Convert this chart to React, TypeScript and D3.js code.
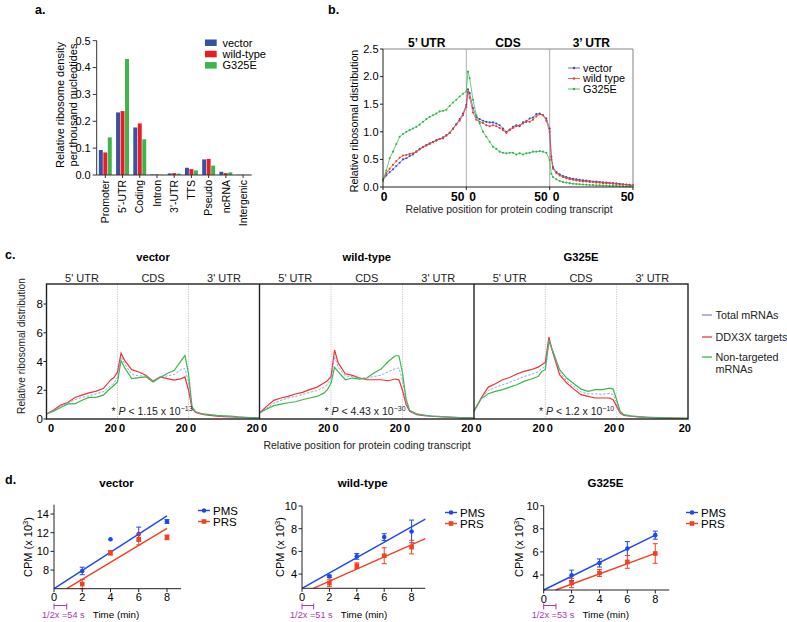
import React from "react";
import * as d3 from "d3";

const SANS = "'Liberation Sans', Arial, Helvetica, sans-serif";

// ---------------- Panel a ----------------
const A_CATEGORIES = ["Promoter", "5'-UTR", "Coding", "Intron", "3'-UTR", "TTS", "Pseudo", "ncRNA", "Intergenic"];
const A_SERIES = ["vector", "wild-type", "G325E"];
const A_VECTOR = [0.093, 0.233, 0.177, 0.002, 0.006, 0.027, 0.058, 0.012, 0.001];
const A_WILDTYPE = [0.084, 0.238, 0.192, 0.002, 0.007, 0.022, 0.06, 0.007, 0.001];
const A_G325E = [0.14, 0.432, 0.133, 0.001, 0.005, 0.017, 0.035, 0.01, 0.001];
const A_TICKS = [0, 0.1, 0.2, 0.3, 0.4, 0.5];
const A_COLORS = ["#3652a3", "#ec1c24", "#3cb54a"];

// ---------------- Panel b ----------------
const B_SECTIONS = ["5\u2019 UTR", "CDS", "3\u2019 UTR"];
const B_SERIES = ["vector", "wild type", "G325E"];
const B_COLORS = ["#3a4fb0", "#ee3b2c", "#2fb34a"];
const B_POSITIONS = [
  0, 2, 4, 6, 8, 10, 12, 14, 16, 18, 20, 22, 24, 26, 28, 30, 32, 34, 36, 38, 40, 42, 44, 46, 48, 50,
  51, 52, 54, 56, 58, 60, 62, 64, 66, 68, 70, 72, 74, 76, 78, 80, 82, 84, 86, 88, 90, 92, 94, 96, 98, 100,
  101, 102, 104, 106, 108, 110, 112, 114, 116, 118, 120, 122, 124, 126, 128, 130, 132, 134, 136, 138, 140, 142, 144, 146, 148, 150,
];
const B_VECTOR = [
  0.12, 0.21, 0.27, 0.32, 0.38, 0.44, 0.5, 0.52, 0.56, 0.59, 0.64, 0.69, 0.73, 0.76, 0.79, 0.82, 0.85, 0.87, 0.9, 0.94, 0.98, 1.06, 1.14, 1.23, 1.33, 1.49,
  1.77, 1.7, 1.43, 1.27, 1.23, 1.2, 1.18, 1.17, 1.17, 1.15, 1.12, 1.06, 1.0, 1.04, 1.09, 1.12, 1.1, 1.17, 1.18, 1.24, 1.26, 1.32, 1.33, 1.3, 1.24, 1.06,
  0.55, 0.36, 0.27, 0.23, 0.2, 0.18, 0.16, 0.15, 0.14, 0.13, 0.12, 0.115, 0.11, 0.1, 0.1, 0.09, 0.085, 0.08, 0.075, 0.07, 0.065, 0.06, 0.05, 0.045, 0.04, 0.03,
];
const B_WILDTYPE = [
  0.14, 0.25, 0.33, 0.4, 0.47, 0.53, 0.57, 0.58, 0.6, 0.61, 0.64, 0.68, 0.72, 0.75, 0.78, 0.81, 0.84, 0.87, 0.88, 0.93, 0.98, 1.05, 1.13, 1.2, 1.3, 1.45,
  1.72, 1.62, 1.35, 1.22, 1.18, 1.16, 1.12, 1.1, 1.12, 1.1, 1.07, 1.03, 0.98, 1.03, 1.07, 1.1, 1.12, 1.15, 1.2, 1.18, 1.22, 1.28, 1.32, 1.3, 1.2, 1.0,
  0.5, 0.33, 0.25, 0.21, 0.18, 0.16, 0.14, 0.13, 0.12, 0.11, 0.1, 0.1, 0.09, 0.09, 0.08, 0.08, 0.07, 0.07, 0.065, 0.06, 0.055, 0.05, 0.045, 0.04, 0.03, 0.025,
];
const B_G325E = [
  0.12, 0.3, 0.52, 0.64, 0.78, 0.91, 0.96, 1.0, 1.03, 1.06, 1.09, 1.13, 1.18, 1.23, 1.27, 1.3, 1.33, 1.37, 1.38, 1.4, 1.47, 1.53, 1.58, 1.64, 1.69, 1.73,
  2.09, 1.97, 1.58, 1.3, 1.15, 1.0, 0.91, 0.82, 0.73, 0.69, 0.64, 0.62, 0.61, 0.62, 0.62, 0.59, 0.61, 0.59, 0.61, 0.62, 0.64, 0.64, 0.65, 0.64, 0.62, 0.49,
  0.24, 0.18, 0.14, 0.11, 0.09, 0.08, 0.07, 0.06, 0.055, 0.05, 0.045, 0.04, 0.035, 0.035, 0.03, 0.03, 0.025, 0.025, 0.02, 0.02, 0.02, 0.015, 0.015, 0.01, 0.01, 0.01,
];
const B_YTICKS = [0, 0.5, 1.0, 1.5, 2.0, 2.5];

// ---------------- Panel c ----------------
const C_TITLES = ["vector", "wild-type", "G325E"];
const C_SECTIONS = ["5' UTR", "CDS", "3' UTR"];
const C_LEGEND = ["Total mRNAs", "DDX3X targets", "Non-targeted"];
const C_COLORS = ["#7d8dd6", "#ef3333", "#3cb846"];
const C_POSITIONS = [0, 2, 4, 6, 8, 10, 12, 14, 16, 18, 19, 20, 21, 22, 24, 26, 28, 30, 32, 34, 36, 38, 39, 40, 41, 42, 44, 46, 48, 50, 52, 54, 56, 58, 60];
const C_VECTOR_TOTAL = [0.35, 0.6, 0.9, 1.1, 1.35, 1.5, 1.62, 1.75, 1.9, 2.3, 2.5, 2.9, 4.35, 3.85, 3.1, 3.0, 3.0, 2.65, 2.9, 3.0, 3.1, 3.45, 3.5, 2.6, 0.8, 0.48, 0.33, 0.27, 0.22, 0.19, 0.16, 0.13, 0.11, 0.09, 0.08];
const C_VECTOR_TARGETS = [0.35, 0.62, 0.97, 1.15, 1.5, 1.66, 1.82, 1.94, 2.12, 2.7, 2.88, 3.27, 4.58, 4.08, 3.43, 3.27, 3.04, 2.63, 2.93, 2.81, 2.7, 2.81, 2.93, 2.0, 0.74, 0.46, 0.32, 0.25, 0.2, 0.17, 0.14, 0.12, 0.1, 0.08, 0.07];
const C_VECTOR_NONTARGETED = [0.35, 0.55, 0.8, 1.05, 1.05, 1.3, 1.5, 1.5, 1.66, 2.12, 2.35, 2.58, 4.08, 3.57, 2.81, 2.88, 2.93, 2.58, 2.88, 3.16, 3.39, 4.08, 4.42, 3.16, 0.85, 0.5, 0.35, 0.3, 0.25, 0.22, 0.2, 0.15, 0.12, 0.1, 0.08];
const C_WT_TOTAL = [0.42, 0.76, 1.1, 1.3, 1.46, 1.57, 1.7, 1.85, 1.97, 2.2, 2.4, 2.73, 4.35, 3.6, 3.0, 2.95, 2.85, 2.85, 2.95, 3.05, 3.3, 3.5, 3.55, 2.7, 1.2, 0.55, 0.32, 0.25, 0.2, 0.17, 0.14, 0.12, 0.1, 0.08, 0.07];
const C_WT_TARGETS = [0.42, 0.88, 1.3, 1.46, 1.57, 1.74, 1.85, 2.04, 2.2, 2.5, 2.66, 2.95, 4.8, 3.9, 3.15, 3.03, 2.85, 2.73, 2.73, 2.73, 2.66, 2.78, 2.73, 2.0, 1.0, 0.53, 0.3, 0.23, 0.19, 0.16, 0.14, 0.12, 0.1, 0.08, 0.07];
const C_WT_NONTARGETED = [0.42, 0.7, 0.93, 1.04, 1.13, 1.2, 1.34, 1.46, 1.57, 1.8, 2.04, 2.5, 3.6, 3.3, 2.73, 2.85, 2.78, 2.85, 3.2, 3.47, 4.0, 4.4, 4.4, 3.2, 1.4, 0.6, 0.35, 0.28, 0.2, 0.18, 0.15, 0.12, 0.1, 0.08, 0.07];
const C_G325E_TOTAL = [0.55, 1.43, 1.98, 2.2, 2.38, 2.55, 2.75, 2.95, 3.1, 3.28, 3.5, 3.65, 5.5, 4.75, 3.25, 2.65, 2.25, 1.88, 1.75, 1.75, 1.72, 1.78, 1.7, 1.1, 0.47, 0.27, 0.2, 0.16, 0.12, 0.1, 0.08, 0.07, 0.06, 0.05, 0.05];
const C_G325E_TARGETS = [0.55, 1.46, 2.22, 2.45, 2.73, 2.89, 3.13, 3.31, 3.43, 3.61, 3.77, 3.94, 5.69, 4.7, 3.08, 2.5, 2.08, 1.69, 1.57, 1.46, 1.46, 1.46, 1.34, 0.88, 0.42, 0.25, 0.19, 0.15, 0.12, 0.1, 0.08, 0.07, 0.06, 0.05, 0.05];
const C_G325E_NONTARGETED = [0.55, 1.4, 1.76, 1.92, 2.04, 2.22, 2.38, 2.62, 2.78, 2.96, 3.31, 3.43, 5.39, 4.81, 3.43, 2.85, 2.45, 2.08, 1.92, 2.04, 2.04, 2.15, 2.08, 1.34, 0.53, 0.3, 0.22, 0.17, 0.13, 0.11, 0.09, 0.08, 0.07, 0.06, 0.05];
const C_YTICKS = [0, 2, 4, 6, 8];
const C_PVAL_BASE = ["1.15", "4.43", "1.2"];
const C_PVAL_EXP = ["\u221213", "\u221230", "\u221210"];

// ---------------- Panel d ----------------
const D_TITLES = ["vector", "wild-type", "G325E"];
const D_SERIES = ["PMS", "PRS"];
const D_COLORS = ["#1f46f0", "#f2411f"];
const D_PURPLE = "#a83aab";
const D_TIMES = [2, 4, 6, 8];
const D_XTICKS = [0, 2, 4, 6, 8];
const D_VECTOR_PMS = [7.9, 11.3, 11.85, 13.2];
const D_VECTOR_PMS_ERR = [0.4, 0, 0.75, 0.2];
const D_VECTOR_PRS = [6.5, 9.85, 11.3, 11.5];
const D_VECTOR_PRS_ERR = [0.5, 0.25, 0.6, 0.25];
const D_WT_PMS = [3.8, 5.56, 7.26, 7.76];
const D_WT_PMS_ERR = [0.1, 0.25, 0.3, 1.0];
const D_WT_PRS = [3.2, 4.74, 5.62, 6.38];
const D_WT_PRS_ERR = [0.3, 0.25, 0.7, 0.6];
const D_G325E_PMS = [3.97, 5.04, 6.29, 7.45];
const D_G325E_PMS_ERR = [0.45, 0.35, 0.6, 0.35];
const D_G325E_PRS = [3.3, 4.17, 5.13, 5.86];
const D_G325E_PRS_ERR = [0.4, 0.3, 0.55, 0.85];
// fitted regression lines: [slope, intercept]
const D_FIT_PMS = [[0.975, 6.0], [0.678, 2.75], [0.594, 2.7]];
const D_FIT_PRS = [[0.91, 5.18], [0.535, 2.31], [0.443, 2.32]];
const D_FIT_XEND = [8, 9, 8];
const D_YMIN = [6, 2.75, 2.7];
const D_YMAX = [15, 10, 10];
const D_YTICKS = [[8, 10, 12, 14], [4, 6, 8, 10], [4, 6, 8, 10]];
const D_HALF_TRANSIT_MIN = [0.9, 0.85, 0.88];
const D_HALF_TRANSIT_LABEL = ["54", "51", "53"];

function PanelA() {
  const x0 = 96.7;
  const x1 = 251.7;
  const x = d3.scaleBand<string>().domain(A_CATEGORIES).range([x0, x1]).paddingInner(0.25).paddingOuter(0.125);
  const xs = d3.scaleBand<string>().domain(A_SERIES).range([0, x.bandwidth()]).paddingInner(0.12);
  const y = d3.scaleLinear().domain([0, 0.5]).range([175, 40.7]);
  const vals = [A_VECTOR, A_WILDTYPE, A_G325E];
  return (
    <g>
      <text x={35} y={14} fontSize={12.5} fontWeight="bold">a.</text>
      {A_SERIES.map((s, si) =>
        A_CATEGORIES.map((c, ci) => (
          <rect
            key={s + c}
            x={(x(c) as number) + (xs(s) as number)}
            y={y(vals[si][ci])}
            width={xs.bandwidth()}
            height={y(0) - y(vals[si][ci])}
            fill={A_COLORS[si]}
          />
        ))
      )}
      <line x1={x0} x2={x0} y1={y(0)} y2={y(0.5)} stroke="#333" />
      {A_TICKS.map((t) => (
        <g key={t}>
          <line x1={x0 - 4} x2={x0} y1={y(t)} y2={y(t)} stroke="#333" />
          <text x={x0 - 6} y={y(t)} dy="0.35em" textAnchor="end" fontSize={11}>{t.toFixed(1)}</text>
        </g>
      ))}
      <line x1={x0} x2={x1} y1={y(0)} y2={y(0)} stroke="#333" />
      {A_CATEGORIES.map((c) => {
        const cx = (x(c) as number) + x.bandwidth() / 2;
        return (
          <g key={c}>
            <line x1={cx} x2={cx} y1={y(0)} y2={y(0) + 3} stroke="#333" />
            <text transform={`translate(${cx + 3.7},${y(0) + 5}) rotate(-90)`} textAnchor="end" fontSize={10.5}>{c}</text>
          </g>
        );
      })}
      <text transform="translate(63.5,105) rotate(-90)" textAnchor="middle" fontSize={11}>Relative ribosome density</text>
      <text transform="translate(77,105) rotate(-90)" textAnchor="middle" fontSize={11}>per thousand nucleotides</text>
      {A_SERIES.map((s, i) => (
        <g key={s}>
          <rect x={205} y={39.5 + i * 11.3} width={11.7} height={6.5} fill={A_COLORS[i]} />
          <text x={222.5} y={42.7 + i * 11.3} dy="0.35em" fontSize={11}>{s}</text>
        </g>
      ))}
    </g>
  );
}

function PanelB() {
  const x = d3.scaleLinear().domain([0, 150]).range([383, 633]);
  const y = d3.scaleLinear().domain([0, 2.5]).range([187, 49]);
  const series = [B_VECTOR, B_WILDTYPE, B_G325E];
  const line = d3.line<number>().x((_, i) => x(B_POSITIONS[i])).y((d) => y(d));
  const bounds = [0, 50, 100, 150];
  return (
    <g>
      <text x={328} y={14} fontSize={12.5} fontWeight="bold">b.</text>
      <line x1={x(0)} x2={x(150)} y1={y(2.5)} y2={y(2.5)} stroke="#777" strokeWidth={0.9} />
      <line x1={x(150)} x2={x(150)} y1={y(2.5)} y2={y(0)} stroke="#777" strokeWidth={0.9} />
      {[50, 100].map((b) => (
        <line key={b} x1={x(b)} x2={x(b)} y1={y(2.5)} y2={y(0)} stroke="#999" strokeWidth={0.8} />
      ))}
      {series.map((s, i) => (
        <g key={i}>
          <path d={line(s) as string} fill="none" stroke={B_COLORS[i]} strokeWidth={0.7} />
          {s.map((v, j) => (
            <circle key={j} cx={x(B_POSITIONS[j])} cy={y(v)} r={1.05} fill={B_COLORS[i]} />
          ))}
        </g>
      ))}
      <line x1={x(0)} x2={x(0)} y1={y(0)} y2={y(2.5)} stroke="#222" strokeWidth={1} />
      <line x1={x(0)} x2={x(150)} y1={y(0)} y2={y(0)} stroke="#222" strokeWidth={1} />
      {B_YTICKS.map((t) => (
        <g key={t}>
          <line x1={x(0) - 3} x2={x(0)} y1={y(t)} y2={y(t)} stroke="#222" />
          <text x={x(0) - 4.5} y={y(t)} dy="0.35em" textAnchor="end" fontSize={11}>{t.toFixed(1)}</text>
        </g>
      ))}
      {bounds.map((b, i) => (
        <g key={b}>
          <line x1={x(b)} x2={x(b)} y1={y(0)} y2={y(0) + 3} stroke="#222" />
          {i > 0 && (
            <text x={i === 3 ? x(b) + 1 : x(b) - 2} y={201} textAnchor="end" fontSize={12} fontWeight="bold">50</text>
          )}
          {i < 3 && (
            <text x={i === 0 ? x(b) + 1 : x(b) + 3} y={201} textAnchor={i === 0 ? "middle" : "start"} fontSize={12} fontWeight="bold">0</text>
          )}
        </g>
      ))}
      {B_SECTIONS.map((s, i) => (
        <text key={s} x={x(i * 50 + 25) + (i === 0 ? 2 : 0)} y={47} textAnchor="middle" fontSize={12} fontWeight="bold">{s}</text>
      ))}
      <text x={509} y={213} textAnchor="middle" fontSize={10.5} fill="#222">Relative position for protein coding transcript</text>
      <text transform="translate(357.5,121) rotate(-90)" textAnchor="middle" fontSize={10.7}>Relative ribosomal distribution</text>
      {B_SERIES.map((s, i) => (
        <g key={s}>
          <line x1={568} x2={580} y1={68 + i * 10.5} y2={68 + i * 10.5} stroke={B_COLORS[i]} strokeWidth={0.8} />
          <circle cx={574} cy={68 + i * 10.5} r={1.2} fill={B_COLORS[i]} />
          <text x={583} y={68 + i * 10.5} dy="0.35em" fontSize={10.8}>{s}</text>
        </g>
      ))}
    </g>
  );
}

function PanelC() {
  const lefts = [46.5, 259.5, 474];
  const rights = [259.5, 474, 688];
  const top = 284;
  const bottom = 419;
  const y = d3.scaleLinear().domain([0, 8]).range([bottom, 304]);
  const data = [
    [C_VECTOR_TARGETS, C_VECTOR_NONTARGETED, C_VECTOR_TOTAL],
    [C_WT_TARGETS, C_WT_NONTARGETED, C_WT_TOTAL],
    [C_G325E_TARGETS, C_G325E_NONTARGETED, C_G325E_TOTAL],
  ];
  const colorOrder = [C_COLORS[1], C_COLORS[2], C_COLORS[0]];
  return (
    <g>
      <text x={5} y={259} fontSize={12.5} fontWeight="bold">c.</text>
      {C_TITLES.map((t, pi) => {
        const x = d3.scaleLinear().domain([0, 60]).range([lefts[pi], rights[pi]]);
        const line = d3.line<number>().x((_, i) => x(C_POSITIONS[i])).y((d) => y(d));
        return (
          <g key={t}>
            <text x={(lefts[pi] + rights[pi]) / 2} y={261} textAnchor="middle" fontSize={11.2} fontWeight="bold">{t}</text>
            {C_SECTIONS.map((s, si) => (
              <text key={s} x={x(si * 20 + 10)} y={281.5} textAnchor="middle" fontSize={11} fill="#222">{s}</text>
            ))}
            {[20, 40].map((b) => (
              <line key={b} x1={x(b)} x2={x(b)} y1={top} y2={bottom} stroke="#bbb" strokeWidth={0.8} strokeDasharray="1.2,1.2" />
            ))}
            {data[pi].map((s, si) => (
              <path
                key={si}
                d={line(s) as string}
                fill="none"
                stroke={colorOrder[si]}
                strokeWidth={si === 2 ? 0.8 : 1.2}
                strokeDasharray={si === 2 ? "2.5,1.5" : undefined}
              />
            ))}
            {[0, 20, 40, 60].map((b, bi) => (
              <g key={b}>
                {bi > 0 && (
                  <text x={bi === 3 && pi === 2 ? x(b) + 3 : x(b) - 0.5} y={432} textAnchor="end" fontSize={11} fontWeight="bold">20</text>
                )}
                {bi < 3 && (
                  <text x={x(b) + 1.5} y={432} textAnchor="start" fontSize={11} fontWeight="bold">0</text>
                )}
              </g>
            ))}
            <text x={lefts[pi] + 65} y={415} fontSize={10.5} fill="#222">
              {"* "}
              <tspan fontStyle="italic">P</tspan>
              {` < ${C_PVAL_BASE[pi]} x 10`}
              <tspan dy={-4} fontSize={7}>{C_PVAL_EXP[pi]}</tspan>
            </text>
          </g>
        );
      })}
      <rect x={lefts[0]} y={top} width={rights[2] - lefts[0]} height={bottom - top} fill="none" stroke="#222" strokeWidth={1.4} />
      {[lefts[1], lefts[2]].map((lx) => (
        <line key={lx} x1={lx} x2={lx} y1={top} y2={bottom} stroke="#222" strokeWidth={1.4} />
      ))}
      {C_YTICKS.map((t) => (
        <g key={t}>
          <line x1={lefts[0] - 3} x2={lefts[0]} y1={y(t)} y2={y(t)} stroke="#222" />
          <text x={43} y={y(t)} dy="0.35em" textAnchor="end" fontSize={11.5}>{t}</text>
        </g>
      ))}
      <text transform="translate(25,346) rotate(-90)" textAnchor="middle" fontSize={10.2} fill="#222">Relative ribosomal distribution</text>
      <text x={367} y={449} textAnchor="middle" fontSize={10.5} fill="#222">Relative position for protein coding transcript</text>
      {C_LEGEND.map((s, i) => {
        const ly = [315, 337, 357][i];
        return (
          <g key={s}>
            <line x1={702} x2={712} y1={ly} y2={ly} stroke={C_COLORS[i]} strokeWidth={1.3} />
            <text x={715.5} y={ly} dy="0.35em" fontSize={10.8} fill="#222">{s}</text>
          </g>
        );
      })}
      <text x={715.5} y={369} dy="0.35em" fontSize={10.8} fill="#222">mRNAs</text>
    </g>
  );
}

function Marker({ kind, cx, cy, color }: { kind: number; cx: number; cy: number; color: string }) {
  if (kind === 0) return <circle cx={cx} cy={cy} r={2.3} fill={color} />;
  return <rect x={cx - 2.3} y={cy - 2.3} width={4.6} height={4.6} fill={color} />;
}

function PanelD() {
  const axisX = [54, 302, 543.7];
  const xRight = [181.1, 425.3, 669.2];
  const axisY = [588.7, 588.3, 590];
  const yTop = [504.7, 506, 505.7];
  const legendX = [198, 445, 686];
  const legendY = [510.5, 512.5, 512.5];
  const yLabelX = [28, 280, 519];
  const pms = [D_VECTOR_PMS, D_WT_PMS, D_G325E_PMS];
  const pmsErr = [D_VECTOR_PMS_ERR, D_WT_PMS_ERR, D_G325E_PMS_ERR];
  const prs = [D_VECTOR_PRS, D_WT_PRS, D_G325E_PRS];
  const prsErr = [D_VECTOR_PRS_ERR, D_WT_PRS_ERR, D_G325E_PRS_ERR];
  return (
    <g>
      <text x={5} y={484} fontSize={12.5} fontWeight="bold">d.</text>
      {D_TITLES.map((t, pi) => {
        const x = d3.scaleLinear().domain([0, 9]).range([axisX[pi], xRight[pi]]);
        const y = d3.scaleLinear().domain([D_YMIN[pi], D_YMAX[pi]]).range([axisY[pi], yTop[pi]]);
        const sets = [
          { vals: pms[pi], errs: pmsErr[pi], fit: D_FIT_PMS[pi] },
          { vals: prs[pi], errs: prsErr[pi], fit: D_FIT_PRS[pi] },
        ];
        const bx1 = x(D_HALF_TRANSIT_MIN[pi]);
        return (
          <g key={t}>
            <text x={(axisX[pi] + xRight[pi]) / 2 - 1} y={487} textAnchor="middle" fontSize={11.5} fontWeight="bold">{t}</text>
            {sets.map((s, si) => {
              const [m, b] = s.fit;
              const xs = Math.max(0, (D_YMIN[pi] - b) / m);
              const xe = D_FIT_XEND[pi];
              return (
                <g key={si}>
                  <line x1={x(xs)} y1={y(m * xs + b)} x2={x(xe)} y2={y(m * xe + b)} stroke={D_COLORS[si]} strokeWidth={1.4} />
                  {D_TIMES.map((tm, ti) => {
                    const v = s.vals[ti];
                    const e = s.errs[ti];
                    const cx = x(tm);
                    return (
                      <g key={ti}>
                        {e > 0 && (
                          <g stroke={D_COLORS[si]} strokeWidth={1}>
                            <line x1={cx} x2={cx} y1={y(v - e)} y2={y(v + e)} />
                            <line x1={cx - 2.5} x2={cx + 2.5} y1={y(v - e)} y2={y(v - e)} />
                            <line x1={cx - 2.5} x2={cx + 2.5} y1={y(v + e)} y2={y(v + e)} />
                          </g>
                        )}
                        <Marker kind={si} cx={cx} cy={y(v)} color={D_COLORS[si]} />
                      </g>
                    );
                  })}
                </g>
              );
            })}
            <line x1={axisX[pi]} x2={axisX[pi]} y1={axisY[pi]} y2={yTop[pi]} stroke="#222" />
            <line x1={axisX[pi]} x2={xRight[pi]} y1={axisY[pi]} y2={axisY[pi]} stroke="#222" />
            {D_YTICKS[pi].map((tk) => (
              <g key={tk}>
                <line x1={axisX[pi] - 3.5} x2={axisX[pi]} y1={y(tk)} y2={y(tk)} stroke="#222" />
                <text x={axisX[pi] - 5} y={y(tk)} dy="0.35em" textAnchor="end" fontSize={11}>{tk}</text>
              </g>
            ))}
            {D_XTICKS.map((tk) => (
              <g key={tk}>
                <line x1={x(tk)} x2={x(tk)} y1={axisY[pi]} y2={axisY[pi] + 3.5} stroke="#222" />
                <text x={x(tk)} y={axisY[pi] + 12.5} textAnchor="middle" fontSize={11}>{tk}</text>
              </g>
            ))}
            <text x={axisX[pi] + 62} y={617.5} textAnchor="middle" fontSize={9.8}>Time (min)</text>
            <text transform={`translate(${yLabelX[pi] + 4},547) rotate(-90)`} textAnchor="middle" fontSize={11}>
              {"CPM (x 10"}
              <tspan dy={-4} fontSize={7.5}>3</tspan>
              <tspan dy={4}>)</tspan>
            </text>
            <g stroke={D_PURPLE} strokeWidth={1}>
              <line x1={x(0)} x2={bx1} y1={605.5} y2={605.5} />
              <line x1={x(0)} x2={x(0)} y1={603.5} y2={609.5} />
              <line x1={bx1} x2={bx1} y1={603.5} y2={609.5} />
            </g>
            <text x={axisX[pi] - 12} y={618} fontSize={9.2} fill={D_PURPLE}>{`1/2x =${D_HALF_TRANSIT_LABEL[pi]} s`}</text>
            {D_SERIES.map((s, si) => {
              const ly = legendY[pi] + si * 11;
              return (
                <g key={s}>
                  <line x1={legendX[pi]} x2={legendX[pi] + 12} y1={ly} y2={ly} stroke={D_COLORS[si]} strokeWidth={1.4} />
                  <Marker kind={si} cx={legendX[pi] + 6} cy={ly} color={D_COLORS[si]} />
                  <text x={legendX[pi] + 15} y={ly} dy="0.36em" fontSize={11.5}>{s}</text>
                </g>
              );
            })}
          </g>
        );
      })}
    </g>
  );
}

export default function App() {
  return (
    <div style={{ position: "absolute", left: 0, top: 0 }}>
      <svg width={787} height={622} style={{ display: "block", background: "#fff" }} fontFamily={SANS} fill="#000">
        <PanelA />
        <PanelB />
        <PanelC />
        <PanelD />
      </svg>
    </div>
  );
}
